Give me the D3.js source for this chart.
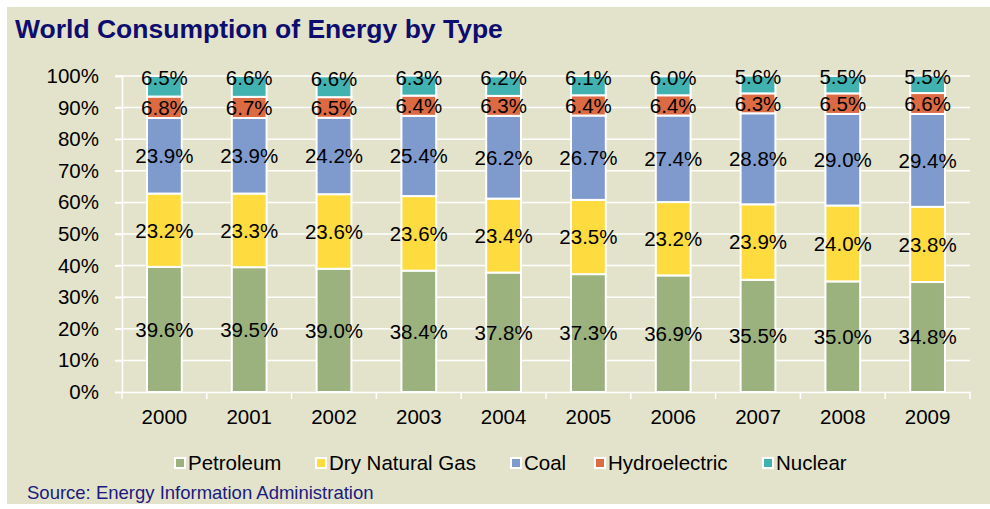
<!DOCTYPE html>
<html>
<head>
<meta charset="utf-8">
<script src="https://cdn.jsdelivr.net/npm/d3@7"></script>
<style>
  body { margin: 0; background: #fff; }
  svg { display: block; font-family: "Liberation Sans", Arial, sans-serif; }
</style>
</head>
<body>
<div id="chart"></div>
<script>
// data (percent of total)
var years = ["2000", "2001", "2002", "2003", "2004", "2005", "2006", "2007", "2008", "2009"];
var petroleum = [39.6, 39.5, 39.0, 38.4, 37.8, 37.3, 36.9, 35.5, 35.0, 34.8];
var naturalGas = [23.2, 23.3, 23.6, 23.6, 23.4, 23.5, 23.2, 23.9, 24.0, 23.8];
var coal = [23.9, 23.9, 24.2, 25.4, 26.2, 26.7, 27.4, 28.8, 29.0, 29.4];
var hydro = [6.8, 6.7, 6.5, 6.4, 6.3, 6.4, 6.4, 6.3, 6.5, 6.6];
var nuclear = [6.5, 6.6, 6.6, 6.3, 6.2, 6.1, 6.0, 5.6, 5.5, 5.5];
var yTicks = [0, 10, 20, 30, 40, 50, 60, 70, 80, 90, 100];

var seriesNames = ["Petroleum", "Dry Natural Gas", "Coal", "Hydroelectric", "Nuclear"];
var seriesValues = [petroleum, naturalGas, coal, hydro, nuclear];
var colors = ["#9bb17e", "#fedb3e", "#7f9acd", "#dc6a43", "#42b2b1"];

var W = 990, H = 509;
var svg = d3.select("#chart").append("svg")
  .attr("width", W)
  .attr("height", H);

// beige panel
svg.append("rect")
  .attr("x", 7).attr("y", 7)
  .attr("width", W - 7).attr("height", H - 12)
  .attr("fill", "#e3e3cb");

svg.append("text")
  .attr("x", 15).attr("y", 38)
  .attr("fill", "#0d0d6f")
  .attr("font-size", 26.5)
  .attr("font-weight", "bold")
  .text("World Consumption of Energy by Type");

var plotLeft = 122, plotRight = 970, plotTop = 76, plotBottom = 392;

var x = d3.scaleBand().domain(years).range([plotLeft, plotRight]).paddingInner(0.59).paddingOuter(0.295);
var y = d3.scaleLinear().domain([0, 100]).range([plotBottom, plotTop]);

// gridlines
svg.append("g").selectAll("line")
  .data(yTicks.slice(1))
  .join("line")
  .attr("x1", plotLeft - 7).attr("x2", plotRight)
  .attr("y1", d => y(d)).attr("y2", d => y(d))
  .attr("stroke", "#ffffff").attr("stroke-width", 1.5);

// y axis
var yAxis = svg.append("g")
  .attr("transform", "translate(" + plotLeft + ",0)")
  .call(d3.axisLeft(y).tickValues(yTicks).tickFormat(d => d + "%").tickSize(7).tickPadding(16));
yAxis.select(".domain").attr("stroke", "#ffffff").attr("stroke-width", 1.5);
yAxis.selectAll(".tick line").attr("stroke", "#ffffff").attr("stroke-width", 1.5);
yAxis.selectAll(".tick text").attr("fill", "#000").attr("font-size", 20.5)
  .attr("font-family", "'Liberation Sans', Arial, sans-serif");

// stacked data
var rows = years.map(function(yr, i) {
  var r = { year: yr };
  seriesNames.forEach(function(s, k) { r[s] = seriesValues[k][i]; });
  return r;
});
var stacked = d3.stack().keys(seriesNames)(rows);

var groups = svg.append("g").selectAll("g")
  .data(stacked)
  .join("g")
  .attr("fill", (d, k) => colors[k]);

groups.selectAll("rect")
  .data(d => d)
  .join("rect")
  .attr("x", d => x(d.data.year))
  .attr("width", x.bandwidth())
  .attr("y", d => y(d[1]))
  .attr("height", d => y(d[0]) - y(d[1]))
  .attr("stroke", "#ffffff")
  .attr("stroke-width", 2);

// x axis
var xAxis = svg.append("g")
  .attr("transform", "translate(0," + plotBottom + ")")
  .call(d3.axisBottom(x).tickSize(0).tickPadding(17));
xAxis.select(".domain").attr("stroke", "#ffffff").attr("stroke-width", 1.5);
xAxis.selectAll(".tick text").attr("fill", "#000").attr("font-size", 20.5)
  .attr("font-family", "'Liberation Sans', Arial, sans-serif");
// tick marks between categories
var step = x.step();
svg.append("g").selectAll("line")
  .data(d3.range(years.length + 1))
  .join("line")
  .attr("x1", i => plotLeft + i * step).attr("x2", i => plotLeft + i * step)
  .attr("y1", plotBottom).attr("y2", plotBottom + 7)
  .attr("stroke", "#ffffff").attr("stroke-width", 1.5);

// value labels
stacked.forEach(function(layer, k) {
  svg.append("g").selectAll("text")
    .data(layer)
    .join("text")
    .attr("x", d => x(d.data.year) + x.bandwidth() / 2)
    .attr("y", function(d) {
      var c = (y(d[0]) + y(d[1])) / 2;
      if (k === 4) c = Math.min(c - 8, y(d[1]) + 2);
      return c;
    })
    .attr("dy", "0.36em")
    .attr("text-anchor", "middle")
    .attr("font-size", 20.5)
    .attr("fill", "#000")
    .text(d => (d[1] - d[0]).toFixed(1) + "%");
});

// legend
var legendX = [175, 316, 511, 595, 763];
var legend = svg.append("g").selectAll("g")
  .data(seriesNames)
  .join("g")
  .attr("transform", (d, i) => "translate(" + legendX[i] + ",463)");
legend.append("rect")
  .attr("x", 0).attr("y", -5)
  .attr("width", 10).attr("height", 10)
  .attr("fill", (d, i) => colors[i])
  .attr("stroke", "#ffffff").attr("stroke-width", 2);
legend.append("text")
  .attr("x", 13).attr("y", 0)
  .attr("dy", "0.36em")
  .attr("font-size", 20.5)
  .attr("fill", "#000")
  .text(d => d);

svg.append("text")
  .attr("x", 27).attr("y", 499)
  .attr("fill", "#1a1a80")
  .attr("font-size", 18.5)
  .text("Source: Energy Information Administration");
</script>
</body>
</html>
